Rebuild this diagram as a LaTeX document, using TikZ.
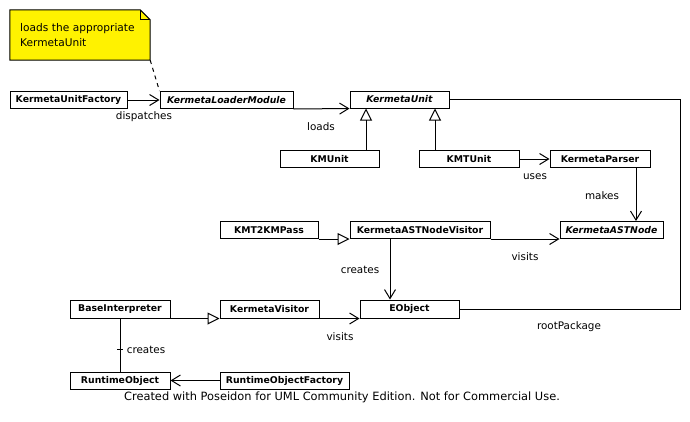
\documentclass[tikz,border=0pt]{standalone}
\usepackage{fontspec}
\setmainfont{DejaVu Sans}
\usetikzlibrary{arrows.meta}
\tikzset{
  ln/.style={line width=1pt},
  cls/.style={draw, ln, fill=white, inner sep=0pt, font=\fontsize{9.3}{10}\selectfont\bfseries},
  acls/.style={cls, font=\fontsize{9.3}{10}\selectfont\bfseries\itshape},
  lbl/.style={inner sep=0pt, font=\fontsize{10.4}{12}\selectfont},
  assoc/.style={draw, ln, -{Straight Barb[length=9pt,width=11pt]}},
  gen/.style={draw, ln, -{Triangle[open,length=12pt,width=12pt]}},
  plain/.style={draw, ln},
}
\begin{document}
\begin{tikzpicture}[x=1pt,y=-1pt]
\useasboundingbox (0,0) rectangle (690,421);
% note
\node[inner sep=0pt, minimum width=140pt, minimum height=50pt] (note) at (80,35) {};
\fill[yellow] (note.north west) -- ([xshift=-10pt]note.north east) -- ([yshift=-10pt]note.north east) -- (note.south east) -- (note.south west) -- cycle;
\draw[ln] (note.north west) -- ([xshift=-10pt]note.north east) -- ([yshift=-10pt]note.north east) -- (note.south east) -- (note.south west) -- cycle;
\draw[ln] ([xshift=-10pt]note.north east) -- ([xshift=-10pt,yshift=-10pt]note.north east) -- ([yshift=-10pt]note.north east);
\node[lbl, anchor=north west, align=left, text width=130pt, font=\fontsize{10.6}{15}\selectfont] (notetext) at (20,23) {loads the appropriate\\KermetaUnit};
% classes
\node[cls, minimum width=117pt, minimum height=17pt] (kuf) at (68.5,100) {KermetaUnitFactory};
\node[acls, minimum width=133pt, minimum height=17pt] (klm) at (226.5,100) {KermetaLoaderModule};
\node[acls, minimum width=99pt, minimum height=17pt] (ku) at (399.5,99.5) {KermetaUnit};
\node[cls, minimum width=99pt, minimum height=17pt] (kmu) at (329.5,159) {KMUnit};
\node[cls, minimum width=100pt, minimum height=17pt] (kmtu) at (469,159) {KMTUnit};
\node[cls, minimum width=100pt, minimum height=17pt] (kp) at (600,159) {KermetaParser};
\node[acls, minimum width=103pt, minimum height=17pt] (kan) at (611.5,230) {KermetaASTNode};
\node[cls, minimum width=98pt, minimum height=17pt] (kmt) at (269,230) {KMT2KMPass};
\node[cls, minimum width=140pt, minimum height=17pt] (kanv) at (420,230) {KermetaASTNodeVisitor};
\node[cls, minimum width=99pt, minimum height=18pt] (eo) at (409.5,309) {EObject};
\node[cls, minimum width=99pt, minimum height=18pt] (kv) at (269.5,309) {KermetaVisitor};
\node[cls, minimum width=100pt, minimum height=18pt] (bi) at (120,309) {BaseInterpreter};
\node[cls, minimum width=100pt, minimum height=17pt] (ro) at (120,380.5) {RuntimeObject};
\node[cls, minimum width=129pt, minimum height=17pt] (rof) at (284.5,380.5) {RuntimeObjectFactory};
\coordinate (rp) at (680,200);
% connectors
\draw[ln, dash pattern=on 4pt off 4pt] (note.south east) -- (klm.north west);
\path[assoc] (kuf.east) -- (klm.west);
\path[assoc] (klm.south east) -- (ku.south west);
\path[gen] ([xshift=36.5pt]kmu.north) -- ([xshift=36.5pt]kmu.north |- ku.south);
\path[gen] ([xshift=-34pt]kmtu.north) -- ([xshift=-34pt]kmtu.north |- ku.south);
\path[plain] (ku.east) -- (ku.east -| rp) |- (eo.east);
\path[assoc] (kmtu.east) -- (kp.west);
\path[assoc] ([xshift=36pt]kp.south) -- ([xshift=36pt]kp.south |- kan.north);
\path[gen] (kmt.south east) -- (kanv.south west);
\path[assoc] (kanv.south east) -- (kan.south west);
\path[assoc] ([xshift=-30pt]kanv.south) -- ([xshift=-30pt]kanv.south |- eo.north);
\path[gen] (bi.south east) -- (kv.south west);
\path[assoc] (kv.south east) -- (eo.south west);
\path[plain] (bi.south) -- node[pos=0.59, inner sep=0pt, minimum size=0pt] (tk) {} (ro.north);
\draw[ln] ([xshift=-3pt]tk.center) -- ([xshift=3pt]tk.center);
\path[assoc] (rof.west) -- (ro.east);
% labels
\node[lbl] (l1) at (144,117) {dispatches};
\node[lbl] (l2) at (321,127) {loads};
\node[lbl] (l3) at (535,177) {uses};
\node[lbl] (l4) at (602,196) {makes};
\node[lbl] (l5) at (525,257) {visits};
\node[lbl] (l6) at (360,270) {creates};
\node[lbl] (l7) at (340,337) {visits};
\node[lbl] (l8) at (569,327) {rootPackage};
\node[lbl] (l9) at (146,350) {creates};
\node[lbl, font=\fontsize{11.4}{13}\selectfont] (foot) at (342,397) {Created with Poseidon for UML Community Edition. Not for Commercial Use.};
\end{tikzpicture}
\end{document}
